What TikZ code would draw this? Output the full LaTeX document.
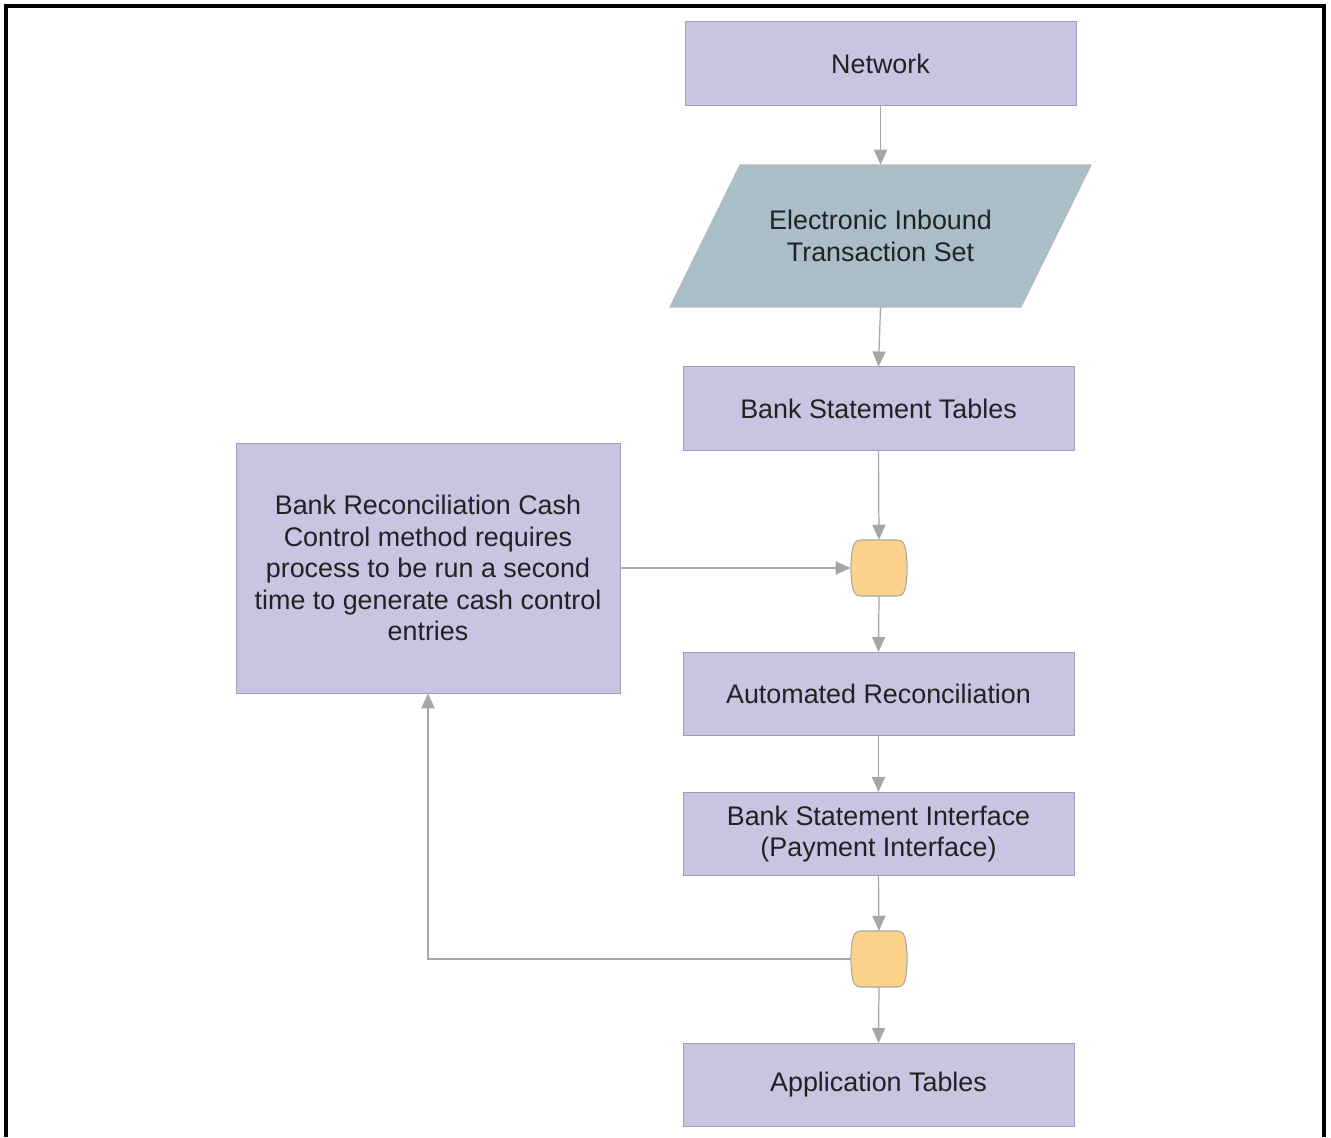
\documentclass[tikz,border=0pt]{standalone}
\usepackage{fontspec}
\setmainfont{Liberation Sans}
\usetikzlibrary{arrows.meta}
\definecolor{boxfill}{RGB}{200,196,226}
\definecolor{boxline}{RGB}{160,158,190}
\definecolor{ioFill}{RGB}{169,190,200}
\definecolor{gateFill}{RGB}{252,210,138}
\definecolor{flowGray}{RGB}{166,166,166}
\definecolor{txt}{RGB}{34,34,34}

\begin{document}
\begin{tikzpicture}[x=0.02cm, y=-0.02cm]
    \tikzset{stepbox/.style={draw = boxline, fill = boxfill,
                minimum width = 7.82cm, minimum height = 1.67cm,
                font = \fontsize{15.3}{18}\selectfont, text = txt,
                align = center, inner sep = 0pt},
             inbound/.style={minimum width = 7.02cm, minimum height = 2.84cm,
                inner sep = 0pt, font = \fontsize{15.3}{18}\selectfont,
                text = txt, align = center},
             ioshape/.style={draw = flowGray!80, fill = ioFill, line width = 0.6pt},
             gate/.style={minimum size = 1.12cm, inner sep = 0pt},
             gateshape/.style={draw = flowGray, fill = gateFill, line width = 0.6pt},
             flow/.style={draw = flowGray, line width = 0.7pt,
                -{Triangle[width = 7.5pt, length = 8.5pt]}}}
    \useasboundingbox (0,0) rectangle (1331,1137);
    \draw[line width = 1.8pt] (6,1137) -- (6,6) -- (1324,6) -- (1324,1137);

    \node[stepbox] (network) at (880.5,63.5) {Network};
    \draw[ioshape] (740,165) -- (1091,165) -- (1021,307) -- (670,307) -- cycle;
    \node[inbound] (ets) at (880.5,236) {Electronic Inbound\\Transaction Set};
    \node[stepbox] (bst) at (878.5,408.5) {Bank Statement Tables};
    \node[stepbox, minimum width = 7.68cm, minimum height = 5cm] (cashctl) at (428,568)
        {Bank Reconciliation Cash\\Control method requires\\process to be run a second\\time to generate cash control\\entries};
    \node[gate] (g1) at (879,568) {};
    \node[stepbox] (autorec) at (878.5,694) {Automated Reconciliation};
    \node[stepbox] (bsi) at (878.5,834) {Bank Statement Interface\\(Payment Interface)};
    \node[gate] (g2) at (879,959) {};
    \node[stepbox] (apptab) at (878.5,1085) {Application Tables};

    \foreach \g in {g1, g2}
        \draw[gateshape, shift={(\g)}] (-18,-28) -- (18,-28)
            .. controls (24,-28) and (26,-24) .. (27,-16)
            .. controls (28.5,-6) and (28.5,6) .. (27,16)
            .. controls (26,24) and (24,28) .. (18,28) -- (-18,28)
            .. controls (-24,28) and (-26,24) .. (-27,16)
            .. controls (-28.5,6) and (-28.5,-6) .. (-27,-16)
            .. controls (-26,-24) and (-24,-28) .. (-18,-28) -- cycle;

    \draw[flow] (network.south) -- (ets.north);
    \draw[flow] (ets.south) -- (bst.north);
    \draw[flow] (bst.south) -- (g1.north);
    \draw[flow] (cashctl.east) -- (g1.west);
    \draw[flow] (g1.south) -- (autorec.north);
    \draw[flow] (autorec.south) -- (bsi.north);
    \draw[flow] (bsi.south) -- (g2.north);
    \draw[flow] (g2.west) -| (cashctl.south);
    \draw[flow] (g2.south) -- (apptab.north);
\end{tikzpicture}
\end{document}
